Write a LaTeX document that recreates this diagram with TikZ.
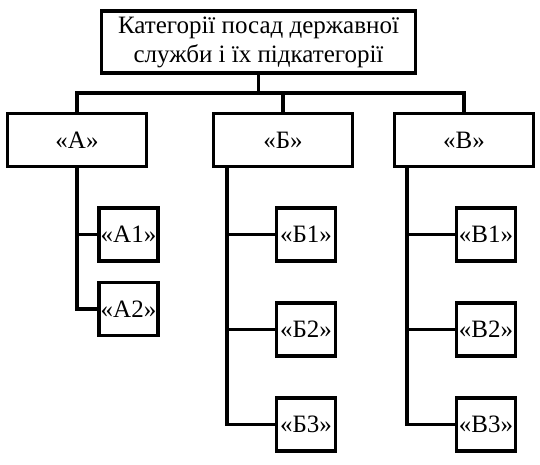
\documentclass[tikz,border=0pt]{standalone}
\usepackage{fontspec}
\setmainfont{Liberation Serif}
\usepackage{tikz}
\usetikzlibrary{positioning, calc}

\begin{document}
\begin{tikzpicture}[
    x=1pt, y=-1pt,
    font=\fontsize{25}{29}\selectfont,
    line width=3.2pt,
    catbox/.style={rectangle, draw=black, fill=white, align=center, inner sep=0pt, minimum width=139pt, minimum height=53pt},
    subbox/.style={rectangle, draw=black, fill=white, align=center, inner sep=0pt, minimum width=59pt, minimum height=53pt},
    link/.style={draw=black, line width=3.2pt}
]
    \useasboundingbox (0,0) rectangle (540,464);

    \node[rectangle, draw=black, align=center, inner sep=0pt, minimum width=314pt, minimum height=62pt] (root) at (258.5,42) {Категорії посад державної\\служби і їх підкатегорії};

    \node[catbox] (cat_a) at (77,140) {«А»};
    \node[catbox] (cat_b) at (283,140) {«Б»};
    \node[catbox] (cat_v) at (464,140) {«В»};

    \node[subbox] (sub_a1) at (128.5,234.5) {«А1»};
    \node[subbox] (sub_a2) at (128.5,309) {«А2»};
    \node[subbox] (sub_b1) at (306,234.5) {«Б1»};
    \node[subbox] (sub_b2) at (306,329.5) {«Б2»};
    \node[subbox] (sub_b3) at (306,424.5) {«Б3»};
    \node[subbox] (sub_v1) at (486,234.5) {«В1»};
    \node[subbox] (sub_v2) at (486,329.5) {«В2»};
    \node[subbox] (sub_v3) at (486,424.5) {«В3»};

    % bus under the root
    \coordinate (bus) at (root.south |- 0,93);
    \draw[link] (root.south) -- (bus);
    \draw[link] (cat_a.north) -- (cat_a.north |- bus) -- (cat_v.north |- bus) -- (cat_v.north);
    \draw[link] (cat_b.north) -- (cat_b.north |- bus);

    % subcategories
    \coordinate (trunk_a) at (cat_a.south);
    \coordinate (trunk_b) at ([xshift=15pt]cat_b.south west);
    \coordinate (trunk_v) at ([xshift=14pt]cat_v.south west);
    \draw[link] (trunk_a) |- (sub_a2.west);
    \draw[link] (trunk_a |- sub_a1.west) -- (sub_a1.west);
    \draw[link] (trunk_b) |- (sub_b3.west);
    \draw[link] (trunk_b |- sub_b1.west) -- (sub_b1.west);
    \draw[link] (trunk_b |- sub_b2.west) -- (sub_b2.west);
    \draw[link] (trunk_v) |- (sub_v3.west);
    \draw[link] (trunk_v |- sub_v1.west) -- (sub_v1.west);
    \draw[link] (trunk_v |- sub_v2.west) -- (sub_v2.west);
\end{tikzpicture}
\end{document}
